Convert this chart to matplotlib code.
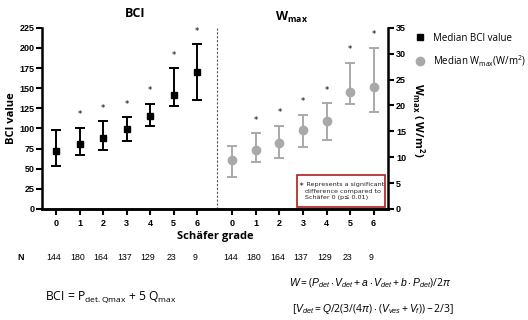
import numpy as np
import matplotlib
matplotlib.use("Agg")
import matplotlib.pyplot as plt
from matplotlib.lines import Line2D
from matplotlib.patches import Rectangle

plt.rcParams['font.family'] = ['Open Sans', 'DejaVu Sans']
plt.rcParams['mathtext.fontset'] = 'custom'
plt.rcParams['mathtext.rm'] = 'Open Sans'
plt.rcParams['mathtext.bf'] = 'Open Sans:bold'
plt.rcParams['mathtext.it'] = 'Liberation Sans:italic'

grades = [0, 1, 2, 3, 4, 5, 6]
n_counts = [144, 180, 164, 137, 129, 23, 9]

bci_med = [72, 81, 88, 99, 115, 142, 170]
bci_lo = [53, 67, 73, 85, 103, 128, 135]
bci_hi = [98, 101, 109, 114, 131, 175, 205]
bci_sig = [False, True, True, True, True, True, True]

w_med = [9.5, 11.3, 12.7, 15.2, 17.0, 22.6, 23.6]
w_lo = [6.2, 9.0, 9.9, 11.9, 13.4, 20.2, 18.7]
w_hi = [12.1, 14.7, 16.1, 18.2, 20.5, 28.3, 31.2]
w_sig = [False, True, True, True, True, True, True]

gray = '#a9a9a9'
x1 = np.array(grades, dtype=float)
x2 = x1 + 7.5

fig = plt.figure(figsize=(5.28, 3.2), dpi=100)
ax = fig.add_axes([0.0795, 0.347, 0.656, 0.566])
ax2 = ax.twinx()

bci_med = np.array(bci_med); w_med = np.array(w_med)
ax.errorbar(x1, bci_med, yerr=[bci_med - np.array(bci_lo), np.array(bci_hi) - bci_med],
            fmt='s', color='black', ms=5, capsize=3.5, elinewidth=1.4, capthick=1.4)
ax2.errorbar(x2, w_med, yerr=[w_med - np.array(w_lo), np.array(w_hi) - w_med],
             fmt='o', color=gray, ms=6, capsize=3.5, elinewidth=1.4, capthick=1.4)

for xi, top, s in zip(x1, bci_hi, bci_sig):
    if s:
        ax.annotate('*', (xi, top), xytext=(0, 6), textcoords='offset points',
                    ha='center', va='bottom', fontsize=6, family='DejaVu Sans')
for xi, top, s in zip(x2, w_hi, w_sig):
    if s:
        ax2.annotate('*', (xi, top), xytext=(0, 6), textcoords='offset points',
                     ha='center', va='bottom', fontsize=6, family='DejaVu Sans')

ax.set_xlim(-0.6, 14.13)
ax.set_ylim(0, 225)
ax2.set_ylim(0, 35)
ax.set_yticks(np.arange(0, 226, 25))
ax2.set_yticks(np.arange(0, 36, 5))
ax.set_xticks(np.concatenate([x1, x2]))
ax.set_xticklabels([str(g) for g in grades] * 2)
ax.axvline(6.85, color='#555555', lw=0.8, ls=(0, (2, 1.5)))

for a in (ax, ax2):
    a.spines['top'].set_visible(False)
    for sp in a.spines.values():
        sp.set_linewidth(1.8)
    a.tick_params(width=1.5, length=4, labelsize=6.5, pad=1.5)
    for lab in a.get_xticklabels() + a.get_yticklabels():
        lab.set_fontweight('bold')
        lab.set_family(['Liberation Sans', 'DejaVu Sans'])
ax.spines['right'].set_visible(False)
ax2.spines['left'].set_visible(False)
ax.tick_params(axis='x', pad=3)

ax.set_title('BCI', fontsize=9, fontweight='bold', x=0.27, pad=8)
fig.text(292 / 528, 1 - 17 / 320, r'$\mathbf{W_{max}}$', fontsize=9, ha='center', va='center')
fig.text(12 / 528, 1 - 118 / 320, 'BCI value', rotation=90, fontsize=8,
         fontweight='bold', ha='center', va='center')
fig.text(418 / 528, 1 - 120 / 320, r'$\mathbf{W_{max}\ (\ W/m^{2})}$', rotation=-90,
         fontsize=8, ha='center', va='center')
fig.text(215 / 528, 1 - 237 / 320, 'Schäfer grade', fontsize=8, fontweight='bold',
         ha='center', va='center')

# N row
fig.text(21 / 528, 1 - 257 / 320, 'N', fontsize=6.5, fontweight='bold', ha='center', va='center',
         family=['Liberation Sans', 'DejaVu Sans'])
for xs in (x1, x2):
    for xi, n in zip(xs, n_counts):
        px = ax.transData.transform((xi, 0))[0]
        fig.text(px / 528 - 0.004, 1 - 257 / 320, str(n), fontsize=6.3, ha='center', va='center',
                 family=['Liberation Sans', 'DejaVu Sans'])

# legend
handles = [Line2D([], [], marker='s', color='black', ls='none', ms=5),
           Line2D([], [], marker='o', color=gray, ls='none', ms=6)]
fig.legend(handles, ['Median BCI value', r'Median W$_{\mathrm{max}}$(W/m$^2$)'],
           loc='upper left', bbox_to_anchor=(410 / 528, 1 - 29 / 320), frameon=False,
           fontsize=7, handletextpad=0.8, handlelength=1.2, labelspacing=0.95, borderaxespad=0)

# significance note box
fig.add_artist(Rectangle((297 / 528, 1 - 207 / 320), 88 / 528, 32 / 320,
                         transform=fig.transFigure, fill=False, ec='#b01c1c', lw=1.2))
fig.text(299 / 528, 1 - 191 / 320,
         '∗ Represents a significant\n   difference compared to\n   Schäfer 0 (p≤ 0.01)',
         fontsize=4.6, ha='left', va='center', linespacing=1.45,
         family=['DejaVu Sans'], color='#222222')

# formulas
fig.text(45 / 528, 1 - 297 / 320, r'BCI = P$_{\mathrm{det.Qmax}}$ + 5 Q$_{\mathrm{max}}$',
         fontsize=8.7, ha='left', va='center')
fig.text(289 / 528, 1 - 283 / 320,
         r'$W=(P_{det}\cdot V_{det}+a\cdot V_{det}+b\cdot P_{det})/2\pi$',
         fontsize=7.5, ha='left', va='center')
fig.text(292 / 528, 1 - 309 / 320,
         r'$[V_{det}=Q/2(3/(4\pi)\cdot(V_{ves}+V_{f}))-2/3]$',
         fontsize=7.5, ha='left', va='center')

fig.savefig('out.png', dpi=100)
